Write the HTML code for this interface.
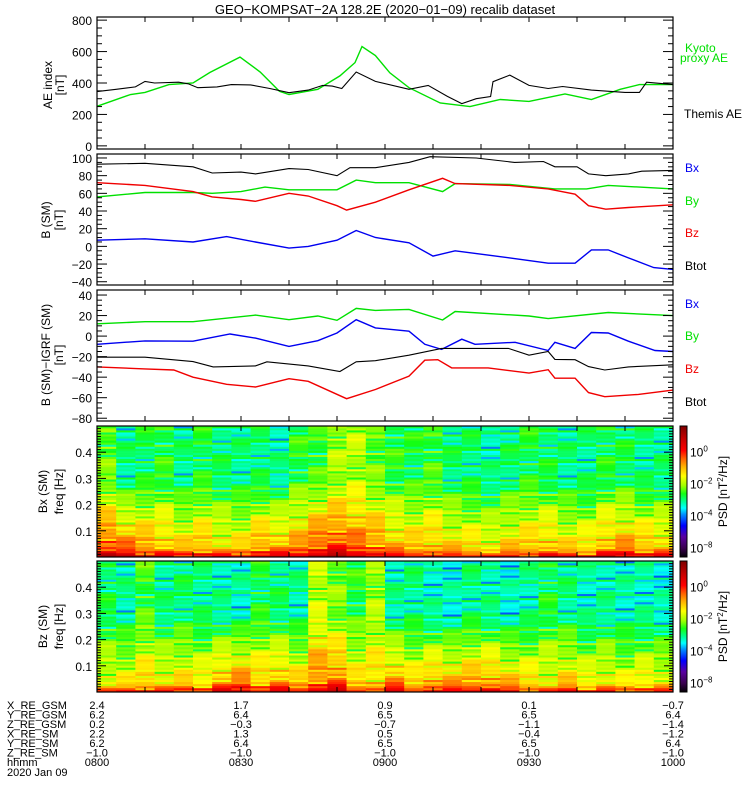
<!DOCTYPE html>
<html><head><meta charset="utf-8"><style>
html,body{margin:0;padding:0;background:#fff;}
svg text{font-family:"Liberation Sans",sans-serif;}
</style></head><body>
<svg id="c" width="750" height="800" viewBox="0 0 750 800" xmlns="http://www.w3.org/2000/svg">
<rect width="750" height="800" fill="#fff"/>
<text x="385" y="14" font-size="13" text-anchor="middle">GEO−KOMPSAT−2A 128.2E (2020−01−09) recalib dataset</text>
<g id="spec"></g><g id="lines"></g><g id="axes"></g><g id="labels"></g>
</svg>
<script>
// ---- data ----
const aeThemisT=[0,4,8,10,12,17,19,21,25,28,32,36,40,44,47,49,51,54,58,65,69,73,76,79,82,82.5,86,90,94,97,103,110,113,114.5,120];
const aeThemisV=[345,360,375,410,400,405,395,370,375,390,388,365,338,355,385,380,365,470,410,360,385,315,269,300,314,408,450,385,365,378,355,340,340,405,390];
const aeKyotoT=[0,7,10,15,20,23.5,29.8,34,38,40,46,50.6,53.75,55.2,58,61,65,71.5,77.7,84,90,97.5,103,109,113,120];
const aeKyotoV=[252,327,340,390,400,467,565,470,347,327,360,445,530,632,575,465,370,273,250,295,283,330,295,360,390,390];
const bBtotT=[0,10,20,24,30,33,40,44,50,52.7,58,65,69.4,79,87,93,95.4,100,102.4,106,110.7,113.5,120];
const bBtotV=[93,94,90,83,84,82,88,87,80,89,89,95,101.5,100,95,96,90,90,82,80,82,85,86];
const bByT=[0,10,20,24,30,35,40,44,50,54,58,65,72,74.6,86,95.4,102,106.5,120];
const bByV=[56,61,61,60,62,67,64,64,64,75,72,72,62,71,70,65,65,69,65];
const bBzT=[0,10,20,24,30,33,40,44,50,52,58,65,72,74.6,86,94,99.6,102.4,106,110.7,120];
const bBzV=[72,69,62,56,53,51,60,57,46,41,50,64,77,71,69,65,59,46,42,44,47];
const bBxT=[0,10,20,27,33,40,44,50,54,58,65,70,74.6,86,94,99.6,103,106.5,110.7,116,120];
const bBxV=[7,8.6,5,11,5,-2,0,7,18,10,4,-11,-5,-13,-19,-19,-4,-4,-13,-24,-26];
const dByT=[0,10,20,33,40,46,50,54,58,65,72,74.6,90,94,106.5,120];
const dByV=[12,14,14,20.5,16,19.6,15.4,27,25,26,15.7,24,19.6,17,23,20];
const dBxT=[0,10,20,27.7,33,40,46,50,54,58,65,68.3,71.8,76,78.75,87.1,94,95.4,99.6,103,106.5,110.7,116.25,120];
const dBxV=[-8,-4.7,-5,2,-2,-10,-4.5,3,16,8,4.8,-8,-13,-3,-8,-6,-14,-6,-12,3.5,3,-5,-14,-15];
const dBtotT=[0,10,20,24.2,33,35.4,44,50.6,54,58,65,71.8,85.7,90,94,95.4,99.6,102.4,105.8,110.7,120];
const dBtotV=[-20.6,-20.6,-24.8,-30,-29,-25,-29,-34.5,-25,-24,-18.6,-12,-12,-18.6,-15,-22.7,-23,-29.7,-33,-30,-28];
const dBzT=[0,10,16,20,27,33,40,44,52,58,65,68.3,71,73.9,81.5,90,94,95.4,99.6,102.4,105.8,112.8,120];
const dBzV=[-30,-32,-33,-40,-47,-49.6,-41.5,-44,-61,-52,-39,-23.5,-23,-31,-31,-36,-32.7,-41,-41,-55,-59,-56.8,-52.6];
const spec1Top=[-2.3,-3.0,-2.8,-2.6,-3.0,-2.7,-2.9,-3.0,-2.9,-3.1,-2.6,-2.5,-2.0,-1.9,-2.3,-2.6,-2.7,-2.5,-2.9,-2.9,-3.1,-2.9,-2.7,-2.8,-3.0,-3.0,-2.7,-2.8,-3.0,-3.0];
const spec1Bot=[-0.3,-0.6,-0.8,-1.0,-1.2,-1.0,-1.3,-1.3,-0.8,-0.9,-0.8,-0.3,-0.2,-0.5,-0.6,-1.0,-1.1,-1.0,-1.2,-1.3,-1.4,-1.2,-1.1,-1.0,-1.3,-1.3,-0.9,-0.8,-1.0,-1.1];
const spec2Top=[-2.8,-3.1,-2.5,-3.0,-2.9,-3.0,-3.1,-3.2,-2.7,-2.9,-3.1,-1.8,-2.2,-2.6,-2.0,-3.1,-3.0,-3.2,-3.3,-3.0,-3.1,-3.3,-3.1,-2.7,-3.0,-3.2,-3.1,-3.2,-3.2,-3.3];
const spec2Bot=[-1.6,-1.5,-1.2,-1.4,-1.3,-1.4,-0.9,-0.7,-1.1,-0.9,-1.2,-0.6,-0.5,-1.3,-1.2,-0.8,-1.3,-0.9,-1.0,-0.9,-0.8,-1.1,-1.3,-1.5,-1.2,-1.5,-1.4,-1.6,-1.4,-1.5];
const texture=[0.2,-0.3,0.1,0.4,-0.2,0,-0.5,0.3,-0.1,0.2,-0.9,0.1,-0.3,0.3,0,-0.2,0.4,-0.1,0.1,-0.4,0.2,-0.7,0];
const lowBoost=[1.3,1.0,0.7,0.4,0.2];
const timeLabels=['0800','0830','0900','0930','1000'];
const xGsm=['2.4','1.7','0.9','0.1','−0.7'],yGsm=['6.2','6.4','6.5','6.5','6.4'],zGsm=['0.2','−0.3','−0.7','−1.1','−1.4'];
const xSm=['2.2','1.3','0.5','−0.4','−1.2'],ySm=['6.2','6.4','6.5','6.5','6.4'],zSm=['−1.0','−1.0','−1.0','−1.0','−1.0'];

const NS='http://www.w3.org/2000/svg';
const X0=97,X1=673;
const xs=t=>X0+(t/120)*(X1-X0);
function el(tag,attrs,parent){const e=document.createElementNS(NS,tag);for(const k in attrs)e.setAttribute(k,attrs[k]);parent.appendChild(e);return e;}
const gA=document.getElementById('axes'),gL=document.getElementById('lines'),gS=document.getElementById('spec'),gT=document.getElementById('labels');
function txt(x,y,s,size,anchor,color,parent,rot,name){const t=el('text',{x:x,y:y,'font-size':size,'text-anchor':anchor||'start',fill:color||'#000'},parent||gT);
if(rot)t.setAttribute('transform','rotate(-90 '+x+' '+y+')');t.textContent=s;

return t;}

const panels=[
 {top:17,bot:149,vmin:-20,vmax:820,labels:[0,200,400,600,800],minor:50,name:'ae-panel'},
 {top:154,bot:285,vmin:-43.7,vmax:104.5,labels:[-40,-20,0,20,40,60,80,100],minor:5,name:'b-sm-panel'},
 {top:290,bot:421,vmin:-82.7,vmax:44.9,labels:[-80,-60,-40,-20,0,20,40],minor:5,name:'b-igrf-panel'}
];
panels.forEach(p=>{p.ys=v=>p.bot-(v-p.vmin)/(p.vmax-p.vmin)*(p.bot-p.top);});

function frame(top,bot,name){
 const r=el('rect',{x:X0,y:top,width:X1-X0,height:bot-top,fill:'none',stroke:'#000','stroke-width':1.2},gA);
 
 
 for(let t=0;t<=120;t+=10){const x=xs(t);
  el('line',{x1:x,x2:x,y1:bot,y2:bot-5,stroke:'#000'},gA);
  el('line',{x1:x,x2:x,y1:top,y2:top+5,stroke:'#000'},gA);}
}
panels.forEach(p=>{
 frame(p.top,p.bot,p.name);
 const lo=Math.ceil(p.vmin/p.minor)*p.minor;
 for(let v=lo;v<=p.vmax;v+=p.minor){const y=p.ys(v);const maj=p.labels.includes(v);const L=maj?10:5;
  el('line',{x1:X0,x2:X0+L,y1:y,y2:y,stroke:'#000'},gA);el('line',{x1:X1,x2:X1-L,y1:y,y2:y,stroke:'#000'},gA);}
 p.labels.forEach(v=>txt(92,p.ys(v)+5,String(v).replace('-','−'),12,'end','#000',gT,false,'y-tick-label'));
});

function series(p,T,V,color,name){
 const pts=T.map((t,i)=>xs(t).toFixed(1)+','+p.ys(V[i]).toFixed(1)).join(' ');
 const l=el('polyline',{points:pts,fill:'none',stroke:color,'stroke-width':color==='#000'?1.1:1.4},gL);
 
 
}
series(panels[0],aeKyotoT,aeKyotoV,'#00e000','kyoto-ae-line');
series(panels[0],aeThemisT,aeThemisV,'#000','themis-ae-line');
series(panels[1],bBtotT,bBtotV,'#000','btot-line');
series(panels[1],bByT,bByV,'#00e000','by-line');
series(panels[1],bBzT,bBzV,'#f00000','bz-line');
series(panels[1],bBxT,bBxV,'#0000f0','bx-line');
series(panels[2],dByT,dByV,'#00e000','by-igrf-line');
series(panels[2],dBxT,dBxV,'#0000f0','bx-igrf-line');
series(panels[2],dBtotT,dBtotV,'#000','btot-igrf-line');
series(panels[2],dBzT,dBzV,'#f00000','bz-igrf-line');

const stops=[[-6.6,[0,0,0]],[-6,[58,0,80]],[-5.3,[90,0,160]],[-4.6,[0,0,255]],[-3.9,[0,144,255]],[-3.5,[0,255,255]],[-3.1,[0,255,150]],[-2.6,[20,255,20]],[-2.1,[160,255,0]],[-1.5,[255,255,0]],[-0.9,[255,176,0]],[-0.4,[255,96,0]],[0.1,[255,0,0]],[0.8,[200,0,0]],[1.6,[128,0,0]]];
function cmap(v){if(v<=stops[0][0])return 'rgb(0,0,0)';for(let i=1;i<stops.length;i++){if(v<=stops[i][0]){const a=stops[i-1],b=stops[i],f=(v-a[0])/(b[0]-a[0]);return 'rgb('+a[1].map((c,k)=>Math.round(c+(b[1][k]-c)*f)).join(',')+')';}}return 'rgb(128,0,0)';}

const NR=64;
function spectro(top,bot,TOP,BOT,name,ylab){
 const nc=TOP.length,cw=(X1-X0)/nc,rh=(bot-top)/NR;
 for(let c=0;c<nc;c++)for(let r=0;r<NR;r++){
  const f=(r+0.5)/NR*0.5;const w=Math.max(0,Math.min(1,(0.3-f)/0.25));
  let v=TOP[c]+(BOT[c]-TOP[c])*w+texture[(r*7+c*13)%texture.length]+(r<lowBoost.length?lowBoost[r]:0);
  const cell=el('rect',{x:(X0+c*cw).toFixed(2),y:(bot-(r+1)*rh).toFixed(2),width:(cw+0.3).toFixed(2),height:(rh+0.3).toFixed(2),fill:cmap(v)},gS);
  
  
 }
 frame(top,bot,name);
 const ysF=f=>bot-f/0.5*(bot-top);
 for(let k=1;k<50;k++){const y=ysF(k*0.01);const maj=k%10===0;const L=maj?9:4;
  el('line',{x1:X0,x2:X0+L,y1:y,y2:y,stroke:'#000'},gA);el('line',{x1:X1,x2:X1-L,y1:y,y2:y,stroke:'#000'},gA);}
 [0.1,0.2,0.3,0.4].forEach(f=>txt(92,ysF(f)+5,String(f),12,'end','#000',gT,false,'freq-tick-label'));
 const cy=(top+bot)/2;
 txt(47,cy,ylab,12,'middle','#000',gT,true,'spectrogram-title');
 txt(63,cy,'freq [Hz]',12,'middle','#000',gT,true,'freq-axis-title');
 for(let y=top;y<bot;y++){const r=el('rect',{x:680,y:y,width:7,height:1.5,fill:cmap(1.6-(y-top)/16)},gS);
  
  }
 const cb=el('rect',{x:680,y:top,width:7,height:bot-top,fill:'none',stroke:'#000'},gA);
 
 
 [['0',0],['−2',-2],['−4',-4],['−8',-6]].forEach(([s,v])=>{const y=top+(1.6-v)*16+5;
  const t=txt(690,y,'10',12,'start','#000',gT,false,'colorbar-tick-label');
  const sp=el('tspan',{dy:-5,'font-size':8},t);sp.textContent=s;});
 const pl=txt(727,cy,'PSD [nT',12,'middle','#000',gT,true,'colorbar-title');
 const s2=el('tspan',{dy:-4,'font-size':8},pl);s2.textContent='2';
 const s3=el('tspan',{dy:4},pl);s3.textContent='/Hz]';
}
spectro(426,557,spec1Top,spec1Bot,'bx-spectrogram','Bx (SM)');
spectro(561,692,spec2Top,spec2Bot,'bz-spectrogram','Bz (SM)');

txt(52,85,'AE index',12,'middle','#000',gT,true,'ae-axis-title');
txt(64,85,'[nT]',12,'middle','#000',gT,true,'ae-unit');
txt(50,220,'B (SM)',12,'middle','#000',gT,true,'b-axis-title');
txt(63,220,'[nT]',12,'middle','#000',gT,true,'b-unit');
txt(50,355,'B (SM)−IGRF (SM)',12,'middle','#000',gT,true,'b-igrf-axis-title');
txt(63,355,'[nT]',12,'middle','#000',gT,true,'b-igrf-unit');
txt(685,52,'Kyoto',12,'start','#00e000',gT,false,'legend-kyoto');
txt(680,62,'proxy AE',12,'start','#00e000',gT,false,'legend-kyoto');
txt(684,118,'Themis AE',12,'start','#000',gT,false,'legend-themis');
[[172,'Bx','#0000f0'],[205,'By','#00e000'],[237,'Bz','#f00000'],[270,'Btot','#000']].forEach(a=>txt(685,a[0],a[1],12,'start',a[2],gT,false,'legend-'+a[1].toLowerCase()));
[[308,'Bx','#0000f0'],[340,'By','#00e000'],[373,'Bz','#f00000'],[406,'Btot','#000']].forEach(a=>txt(685,a[0],a[1],12,'start',a[2],gT,false,'legend-'+a[1].toLowerCase()));

const rows=[['X_RE_GSM',xGsm],['Y_RE_GSM',yGsm],['Z_RE_GSM',zGsm],['X_RE_SM',xSm],['Y_RE_SM',ySm],['Z_RE_SM',zSm],['hhmm',timeLabels]];
rows.forEach((r,i)=>{const y=709+i*9.5;txt(7,y,r[0],11,'start','#000',gT,false,'ephemeris-row-label');
 r[1].forEach((s,j)=>txt(xs(j*30),y,s,11,'middle','#000',gT,false,'ephemeris-value'));});
txt(7,776,'2020 Jan 09',11,'start','#000',gT,false,'date-label');
</script>
</body></html>
